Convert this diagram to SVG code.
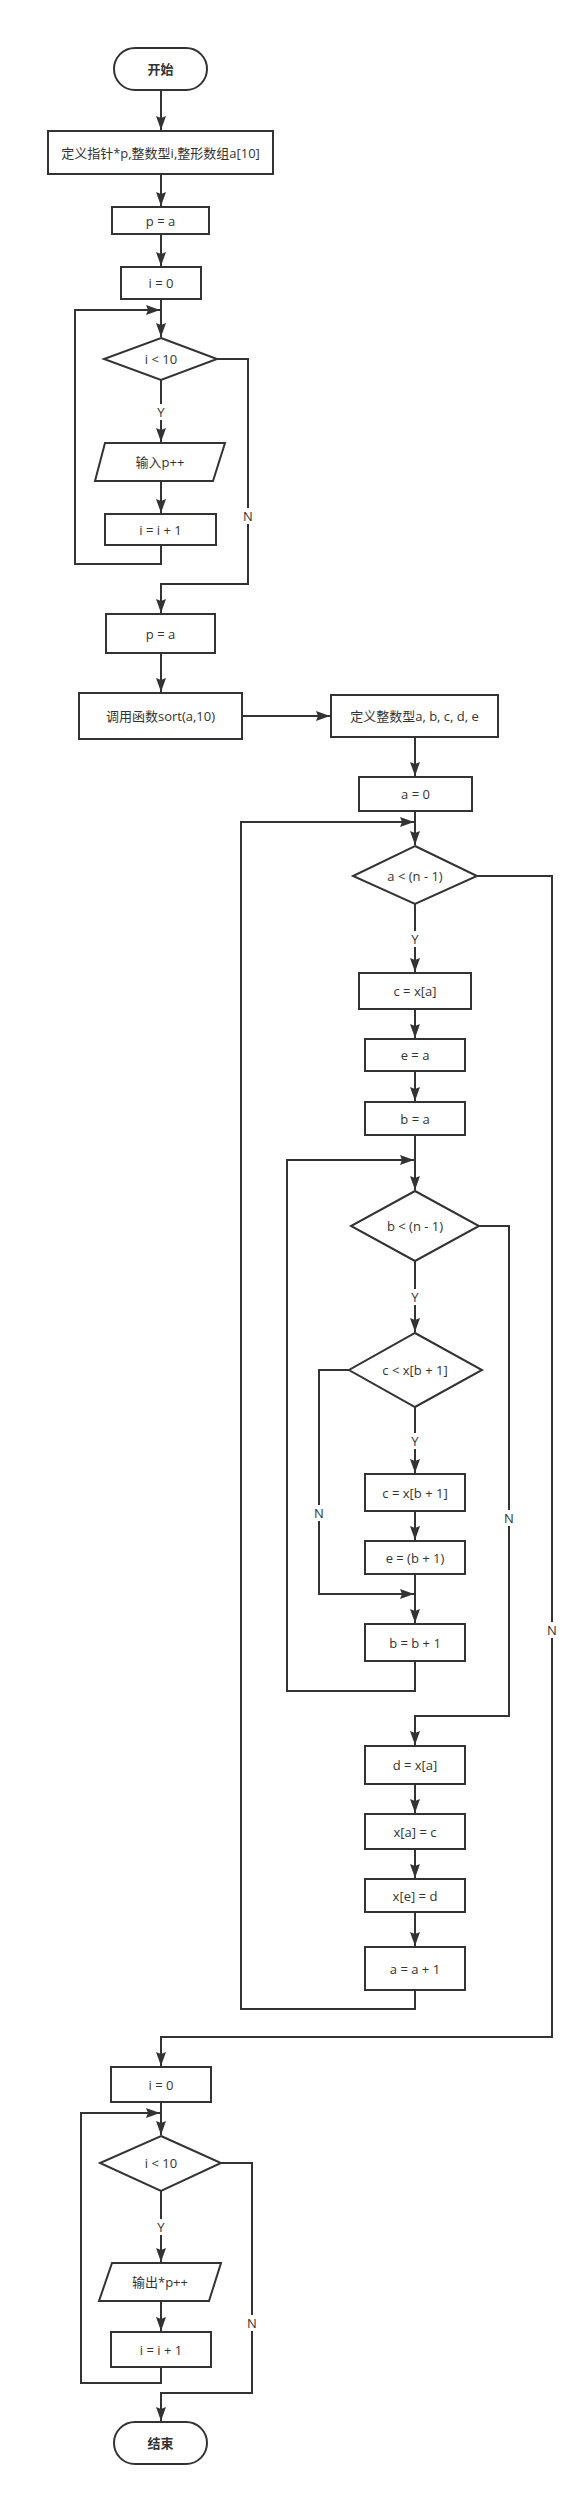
<svg xmlns="http://www.w3.org/2000/svg" width="583" height="2495" viewBox="0 0 583 2495">
<style>
.n{fill:#fff;stroke:#333;stroke-width:2}
.c{fill:none;stroke:#333;stroke-width:2}
.t{font-family:"Open Sans","Noto Sans CJK SC",sans-serif;font-size:13px;fill:#333;text-anchor:middle;dominant-baseline:central}
.b{font-weight:bold}
.lb{fill:#fff}
</style>
<defs>
<marker id="ah" viewBox="0 0 14 10" refX="14" refY="5" markerWidth="14" markerHeight="10" markerUnits="userSpaceOnUse" orient="auto">
<path d="M0,0 L14,5 L0,10 L2,5 z" fill="#333"/>
</marker>
</defs>
<rect width="583" height="2495" fill="#fff"/>
<g id="connectors">
<path class="c" d="M161,90 V130" marker-end="url(#ah)"/>
<path class="c" d="M161,174 V206" marker-end="url(#ah)"/>
<path class="c" d="M161,234 V266" marker-end="url(#ah)"/>
<path class="c" d="M161,299 V337" marker-end="url(#ah)"/>
<path class="c" d="M161,380 V442" marker-end="url(#ah)"/>
<path class="c" d="M161,481 V513" marker-end="url(#ah)"/>
<path class="c" d="M161,545 V564 H75 V310 H160" marker-end="url(#ah)"/>
<path class="c" d="M217,359 H248 V584 H161 V613" marker-end="url(#ah)"/>
<path class="c" d="M161,653 V692" marker-end="url(#ah)"/>
<path class="c" d="M242,716 H330" marker-end="url(#ah)"/>
<path class="c" d="M415,737 V776" marker-end="url(#ah)"/>
<path class="c" d="M415,811 V845" marker-end="url(#ah)"/>
<path class="c" d="M415,904 V972" marker-end="url(#ah)"/>
<path class="c" d="M415,1009 V1038" marker-end="url(#ah)"/>
<path class="c" d="M415,1071 V1101" marker-end="url(#ah)"/>
<path class="c" d="M415,1135 V1190" marker-end="url(#ah)"/>
<path class="c" d="M415,1261 V1332" marker-end="url(#ah)"/>
<path class="c" d="M415,1407 V1473" marker-end="url(#ah)"/>
<path class="c" d="M415,1511 V1540" marker-end="url(#ah)"/>
<path class="c" d="M415,1574 V1623" marker-end="url(#ah)"/>
<path class="c" d="M349,1370 H319 V1594 H414" marker-end="url(#ah)"/>
<path class="c" d="M415,1661 V1691 H287 V1160 H414" marker-end="url(#ah)"/>
<path class="c" d="M479,1226 H509 V1716 H415 V1745" marker-end="url(#ah)"/>
<path class="c" d="M415,1784 V1813" marker-end="url(#ah)"/>
<path class="c" d="M415,1849 V1878" marker-end="url(#ah)"/>
<path class="c" d="M415,1912 V1946" marker-end="url(#ah)"/>
<path class="c" d="M415,1990 V2009 H241 V822 H414" marker-end="url(#ah)"/>
<path class="c" d="M477,876 H552 V2037 H161 V2066" marker-end="url(#ah)"/>
<path class="c" d="M161,2102 V2135" marker-end="url(#ah)"/>
<path class="c" d="M161,2191 V2262" marker-end="url(#ah)"/>
<path class="c" d="M161,2301 V2331" marker-end="url(#ah)"/>
<path class="c" d="M161,2367 V2383 H81 V2113 H160" marker-end="url(#ah)"/>
<path class="c" d="M221,2163 H252 V2393 H161 V2421" marker-end="url(#ah)"/>
<rect class="lb" x="155" y="404" width="12" height="16"/><text class="t" x="161" y="412">Y</text>
<rect class="lb" x="242" y="508" width="12" height="16"/><text class="t" x="248" y="516">N</text>
<rect class="lb" x="409" y="931" width="12" height="16"/><text class="t" x="415" y="939">Y</text>
<rect class="lb" x="409" y="1289" width="12" height="16"/><text class="t" x="415" y="1297">Y</text>
<rect class="lb" x="409" y="1433" width="12" height="16"/><text class="t" x="415" y="1441">Y</text>
<rect class="lb" x="313" y="1505" width="12" height="16"/><text class="t" x="319" y="1513">N</text>
<rect class="lb" x="503" y="1510" width="12" height="16"/><text class="t" x="509" y="1518">N</text>
<rect class="lb" x="546" y="1622" width="12" height="16"/><text class="t" x="552" y="1630">N</text>
<rect class="lb" x="155" y="2219" width="12" height="16"/><text class="t" x="161" y="2227">Y</text>
<rect class="lb" x="246" y="2315" width="12" height="16"/><text class="t" x="252" y="2323">N</text>
</g>
<g id="start"><rect class="n" x="114" y="48" width="93" height="42" rx="21"/><text class="t b" x="160.5" y="69">开始</text></g>
<g id="define1"><rect class="n" x="48" y="131" width="225" height="43"/><text class="t" x="160.5" y="152.5">定义指针*p,整数型i,整形数组a[10]</text></g>
<g id="pa1"><rect class="n" x="112" y="207" width="97" height="27"/><text class="t" x="160.5" y="220.5">p = a</text></g>
<g id="i0a"><rect class="n" x="121" y="267" width="80" height="32"/><text class="t" x="161" y="283">i = 0</text></g>
<g id="cond1"><polygon class="n" points="161,338 217,359 161,380 104,359"/><text class="t" x="161" y="359">i &lt; 10</text></g>
<g id="input"><polygon class="n" points="105,443 225,443 213,481 95,481"/><text class="t" x="160" y="462">输入p++</text></g>
<g id="inc1"><rect class="n" x="105" y="514" width="111" height="31"/><text class="t" x="160.5" y="529.5">i = i + 1</text></g>
<g id="pa2"><rect class="n" x="106" y="614" width="109" height="39"/><text class="t" x="160.5" y="633.5">p = a</text></g>
<g id="callsort"><rect class="n" x="79" y="693" width="163" height="46"/><text class="t" x="160.5" y="716">调用函数sort(a,10)</text></g>
<g id="define2"><rect class="n" x="331" y="695" width="167" height="42"/><text class="t" x="414.5" y="716">定义整数型a, b, c, d, e</text></g>
<g id="a0"><rect class="n" x="359" y="777" width="113" height="34"/><text class="t" x="415.5" y="794">a = 0</text></g>
<g id="condA"><polygon class="n" points="415,846 477,876 415,904 353,876"/><text class="t" x="415" y="876">a &lt; (n - 1)</text></g>
<g id="cxa"><rect class="n" x="359" y="973" width="112" height="36"/><text class="t" x="415" y="991">c = x[a]</text></g>
<g id="ea"><rect class="n" x="365" y="1039" width="100" height="32"/><text class="t" x="415" y="1055">e = a</text></g>
<g id="ba"><rect class="n" x="365" y="1102" width="100" height="33"/><text class="t" x="415" y="1118.5">b = a</text></g>
<g id="condB"><polygon class="n" points="415,1191 479,1226 415,1261 351,1226"/><text class="t" x="415" y="1226">b &lt; (n - 1)</text></g>
<g id="condC"><polygon class="n" points="415,1333 482,1370 415,1407 349,1370"/><text class="t" x="415" y="1370">c &lt; x[b + 1]</text></g>
<g id="cxb"><rect class="n" x="365" y="1474" width="100" height="37"/><text class="t" x="415" y="1492.5">c = x[b + 1]</text></g>
<g id="eb"><rect class="n" x="365" y="1541" width="100" height="33"/><text class="t" x="415" y="1557.5">e = (b + 1)</text></g>
<g id="binc"><rect class="n" x="365" y="1624" width="100" height="37"/><text class="t" x="415" y="1642.5">b = b + 1</text></g>
<g id="dxa"><rect class="n" x="365" y="1746" width="100" height="38"/><text class="t" x="415" y="1765">d = x[a]</text></g>
<g id="xac"><rect class="n" x="365" y="1814" width="100" height="35"/><text class="t" x="415" y="1831.5">x[a] = c</text></g>
<g id="xed"><rect class="n" x="365" y="1879" width="100" height="33"/><text class="t" x="415" y="1895.5">x[e] = d</text></g>
<g id="ainc"><rect class="n" x="365" y="1947" width="100" height="43"/><text class="t" x="415" y="1968.5">a = a + 1</text></g>
<g id="i0b"><rect class="n" x="111" y="2067" width="100" height="35"/><text class="t" x="161" y="2084.5">i = 0</text></g>
<g id="cond2"><polygon class="n" points="161,2136 221,2163 161,2191 100,2163"/><text class="t" x="161" y="2163">i &lt; 10</text></g>
<g id="output"><polygon class="n" points="112,2263 221,2263 209,2301 99,2301"/><text class="t" x="160" y="2282">输出*p++</text></g>
<g id="inc2"><rect class="n" x="111" y="2332" width="100" height="35"/><text class="t" x="161" y="2349.5">i = i + 1</text></g>
<g id="end"><rect class="n" x="114" y="2422" width="93" height="42" rx="21"/><text class="t b" x="160.5" y="2443">结束</text></g>
</svg>
